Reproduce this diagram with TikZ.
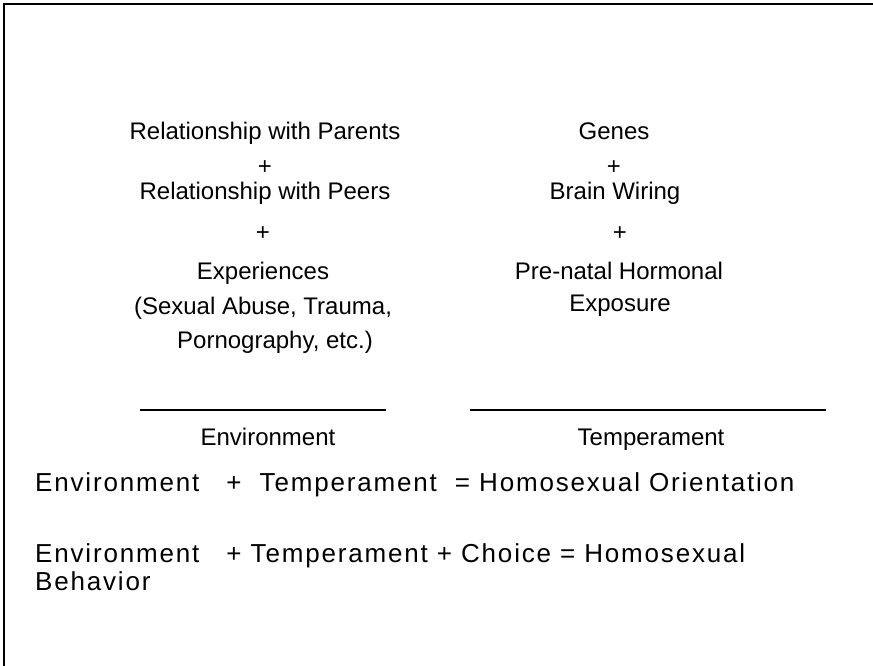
\documentclass[tikz,border=0pt]{standalone}
\usepackage{fontspec}
\setmainfont{Liberation Sans}
\newfontfamily\widefont[LetterSpace=7]{Liberation Sans}
\usetikzlibrary{positioning}

\begin{document}
\begin{tikzpicture}[x=1pt,y=-1pt]
  \tikzstyle{term}=[font=\fontsize{24}{28}\selectfont,inner sep=0pt,anchor=base]
  \tikzstyle{eqn}=[font=\widefont\fontsize{26}{30}\selectfont,inner sep=0pt,anchor=base west]
  \tikzstyle{sumline}=[line width=1.2pt]
  \useasboundingbox (0,0) rectangle (873,666);

  % frame (left and top only)
  \coordinate (fb) at (4,666);
  \coordinate (ft) at (4,4);
  \coordinate (fr) at (873,4);
  \draw[line width=1.5pt] (fb) -- (ft) -- (fr);

  % environment column
  \node[term] (par) at (265,140) {Relationship with Parents};
  \node[term] (plusA) at (265,175) {+};
  \node[term] (peer) at (265,200) {Relationship with Peers};
  \node[term] (plusB) at (263,240) {+};
  \node[term] (exper) at (263,279) {Experiences};
  \node[term] (sexab) at (263,314) {(Sexual Abuse, Trauma,};
  \node[term] (porn) at (275,348) {Pornography, etc.)};

  % temperament column
  \node[term] (genes) at (614,140) {Genes};
  \node[term] (plusC) at (614,175) {+};
  \node[term] (brain) at (615,200) {Brain Wiring};
  \node[term] (plusD) at (620,240) {+};
  \node[term] (prenat) at (619,279) {Pre-natal Hormonal};
  \node[term] (expo) at (620,311) {Exposure};

  % sum lines
  \coordinate (envA) at (140,410);
  \coordinate (envB) at (386,410);
  \coordinate (temA) at (470,410);
  \coordinate (temB) at (826,410);
  \draw[sumline] (envA) -- (envB);
  \draw[sumline] (temA) -- (temB);
  \node[term] (env) at (268,445) {Environment};
  \node[term] (temp) at (651,445) {Temperament};

  % equations
  \node[eqn] (orient) at (35,491)
    {Environment \ \ + \ Temperament \ = Homosexual Orientation};
  \node[eqn] (behav) at (35,562)
    {Environment \ \ + Temperament + Choice = Homosexual};
  \node[eqn] (behavB) at (35,590) {Behavior};
\end{tikzpicture}
\end{document}
